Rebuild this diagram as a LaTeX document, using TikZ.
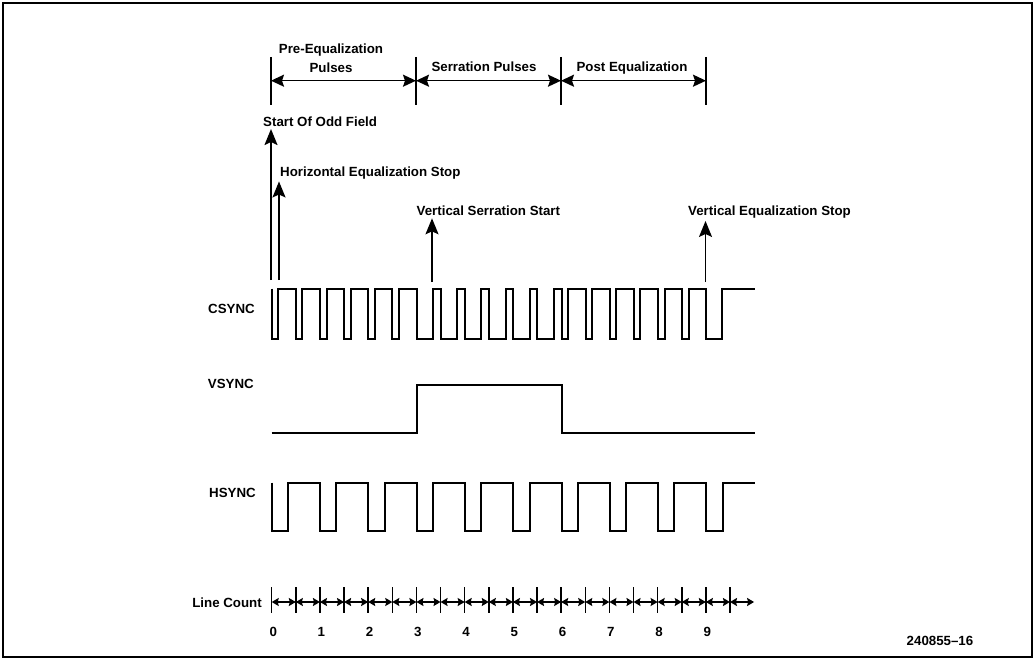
\documentclass[tikz,border=0pt]{standalone}
\usepackage{fontspec}
\setmainfont{Liberation Sans}
\usetikzlibrary{arrows.meta}

\begin{document}
\begin{tikzpicture}[x = 1pt, y = -1pt,
        every node/.style = {font = \fontsize{13.3}{15}\selectfont\bfseries, inner sep = 2pt},
        wave/.style = {line width = 2pt},
        span/.style = {{Stealth[length = 13pt, width = 12pt, inset = 2pt]}-{Stealth[length = 13pt, width = 12pt, inset = 2pt]}, line width = 1.6pt},
        event/.style = {-{Stealth[length = 16pt, width = 13pt, inset = 3pt]}, line width = 1.6pt},
        count/.style = {{Stealth[length = 7pt, width = 8pt, inset = 1pt]}-{Stealth[length = 7pt, width = 8pt, inset = 1pt]}, line width = 1.5pt}]

        \useasboundingbox (0, 0) rectangle (1035, 660);
        \draw[line width = 1.2pt] (3, 3) rectangle (1032, 657);

        \begin{scope}[line width = 1.6pt]
            \foreach \n/\x in {a/271, b/416, c/561, d/706} {
                \draw (\x, 57) -- (\x, 105);
                \coordinate (\n) at (\x, 80.7);
            }
            \draw[span] (a) -- (b);
            \draw[span] (b) -- (c);
            \draw[span] (c) -- (d);
            \path (331, 53.5) node[anchor = base] (pre) {Pre-Equalization};
            \path (331, 73) node[anchor = base] (prep) {Pulses};
            \path (484, 71.5) node[anchor = base] (serr) {Serration Pulses};
            \path (632, 71.5) node[anchor = base] (post) {Post Equalization};
        \end{scope}

        \path (261, 126.7) node[anchor = base west] (odd) {Start Of Odd Field};
        \path (278, 176.5) node[anchor = base west] (hstop) {Horizontal Equalization Stop};
        \path (414.5, 216) node[anchor = base west] (vstart) {Vertical Serration Start};
        \path (686, 216) node[anchor = base west] (vstop) {Vertical Equalization Stop};

        \coordinate (oddfoot) at (271, 280);
        \coordinate (hstopfoot) at (279, 280);
        \coordinate (vstartfoot) at (432, 282);
        \coordinate (vstopfoot) at (705.5, 282);
        \draw[event] (oddfoot) -- (oddfoot |- odd.south);
        \draw[event] (hstopfoot) -- (hstopfoot |- hstop.south);
        \draw[event] (vstartfoot) -- (vstartfoot |- vstart.south);
        \draw[event] (vstopfoot) -- (vstopfoot |- vstop.south);

        \path (257, 313) node[anchor = base east] (csync) {CSYNC};
        \path (256, 388) node[anchor = base east] (vsync) {VSYNC};
        \path (258, 497) node[anchor = base east] (hsync) {HSYNC};
        \path (264, 607) node[anchor = base east] (lcount) {Line Count};

        \draw[wave] (271.7, 288.5)
            \foreach \k in {0,...,5} { -- ({271.7 + 24.15*\k}, 288.5) -- ++(0, 50) -- ++(6.5, 0) -- ++(0, -50) }
            \foreach \k in {6,...,11} { -- ({271.7 + 24.15*\k}, 288.5) -- ++(0, 50) -- ++(16.5, 0) -- ++(0, -50) }
            \foreach \k in {12,...,17} { -- ({271.7 + 24.15*\k}, 288.5) -- ++(0, 50) -- ++(6.5, 0) -- ++(0, -50) }
            -- (706.4, 288.5) -- ++(0, 50) -- ++(15.5, 0) -- ++(0, -50) -- (755, 288.5);

        \draw[wave] (271.7, 433) -- (416.6, 433) -- (416.6, 385) -- (561.5, 385) -- (561.5, 433) -- (755, 433);

        \draw[wave] (271.7, 482.5)
            \foreach \n in {0,...,9} { -- ({271.7 + 48.3*\n}, 482.5) -- ++(0, 48.5) -- ++(16.3, 0) -- ++(0, -48.5) }
            -- (755, 482.5);

        \foreach \k in {0,...,19} {
            \draw[line width = 1.5pt] ({271.7 + 24.12*\k}, 587) -- ++(0, 26);
            \draw[count] ({271.7 + 24.12*\k}, 602) -- ({271.7 + 24.12*(\k + 1)}, 602);
        }
        \foreach \n in {0,...,9}
            \path ({271.7 + 48.24*\n + 1.5}, 636) node[anchor = base] {\n};

        \path (940, 645) node[anchor = base] (fig) {240855--16};
\end{tikzpicture}
\end{document}
